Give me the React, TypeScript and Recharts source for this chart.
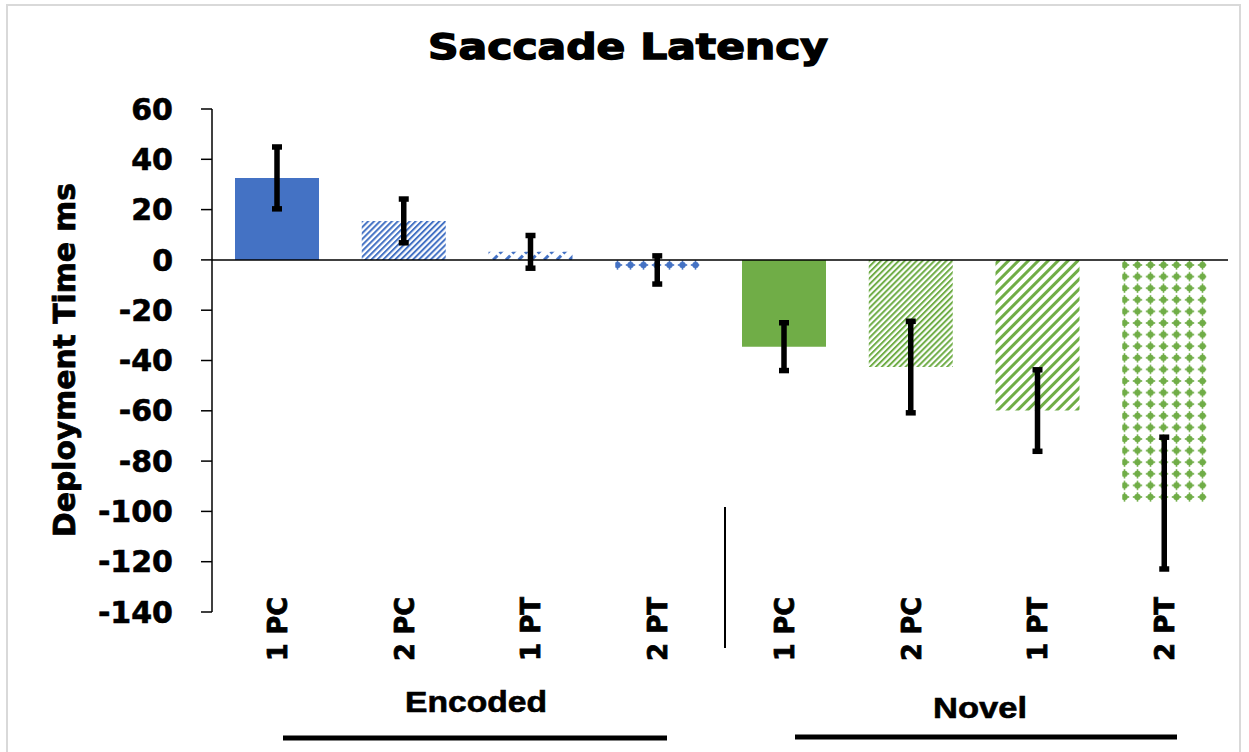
import React from "react";
import { BarChart, Bar, XAxis, YAxis, Cell, ErrorBar, ReferenceLine } from "recharts";

const categories = ["1 PC", "2 PC", "1 PT", "2 PT", "1 PC", "2 PC", "1 PT", "2 PT"];
const groups = ["Encoded", "Encoded", "Encoded", "Encoded", "Novel", "Novel", "Novel", "Novel"];
const latency = [32.6, 15.5, 3.2, -4, -34.5, -42.6, -59.9, -96.7];
const stdErr = [12.3, 8.7, 6.5, 5.6, 9.5, 18.2, 16.2, 26.2];
const fills = [
  "#4472C4",
  "url(#blueFine)",
  "url(#blueDash)",
  "url(#blueDots)",
  "#70AD47",
  "url(#greenFine)",
  "url(#greenWide)",
  "url(#greenDots)",
];
const yTicks = [60, 40, 20, 0, -20, -40, -60, -80, -100, -120, -140];

const data = categories.map((c, i) => ({
  key: `${groups[i]}-${c}`,
  label: c,
  value: latency[i],
  err: stdErr[i],
}));

const BLUE = "#4472C4";
const GREEN = "#70AD47";
const BOLD_FONT = "DejaVu Sans, sans-serif";

function CategoryTick(props: any) {
  const { x, y, payload } = props;
  const label = data[payload.index]?.label ?? payload.value;
  return (
    <text
      x={0}
      y={0}
      dy="0.36em"
      textAnchor="end"
      transform={`translate(${x},${y - 15}) rotate(-90)`}
      fontFamily={BOLD_FONT}
      fontWeight="bold"
      fontSize={26}
      textLength={64}
      lengthAdjust="spacingAndGlyphs"
      fill="#000"
      stroke="#000"
      strokeWidth={0.8}
    >
      {label}
    </text>
  );
}

function Stripes({ id, color, gap, thick }: { id: string; color: string; gap: number; thick: number }) {
  return (
    <pattern id={id} patternUnits="userSpaceOnUse" width={gap} height={gap} patternTransform="rotate(45)">
      <rect x={0} y={0} width={thick} height={gap} fill={color} />
    </pattern>
  );
}

function Dots({ id, color }: { id: string; color: string }) {
  return (
    <pattern id={id} patternUnits="userSpaceOnUse" x={0} y={4} width={13} height={11.6}>
      <circle cx={6.5} cy={5.8} r={3.2} fill={color} />
      <rect x={5.7} y={1.2} width={1.6} height={9.2} fill={color} />
      <rect x={1.8} y={5} width={9.4} height={1.6} fill={color} />
    </pattern>
  );
}

export default function App() {
  return (
    <div style={{ position: "absolute", left: 0, top: 0, width: 1249, height: 752, background: "#fff" }}>
      <BarChart
        width={1249}
        height={752}
        data={data}
        margin={{ top: 109, right: 21, left: 0, bottom: 0 }}
        barSize={84}
      >
        <defs>
          <Stripes id="blueFine" color={BLUE} gap={4.2} thick={2} />
          <pattern id="blueDash" patternUnits="userSpaceOnUse" width={9} height={9} patternTransform="rotate(45)">
            <rect x={0} y={0} width={3} height={6} fill={BLUE} />
          </pattern>
          <Dots id="blueDots" color={BLUE} />
          <Stripes id="greenFine" color={GREEN} gap={4.2} thick={2} />
          <Stripes id="greenWide" color={GREEN} gap={7} thick={3} />
          <Dots id="greenDots" color={GREEN} />
        </defs>
        <XAxis
          dataKey="key"
          height={140}
          axisLine={false}
          tickLine={false}
          tickSize={0}
          tickMargin={0}
          interval={0}
          padding={{ left: 2, right: 0 }}
          tick={<CategoryTick />}
        />
        <YAxis
          width={212}
          domain={[-140, 60]}
          ticks={yTicks}
          interval={0}
          allowDataOverflow
          axisLine={{ stroke: "#000", strokeWidth: 1.5 }}
          tickLine={{ stroke: "#000", strokeWidth: 1.5 }}
          tickSize={11}
          tickMargin={28}
          tick={{ fill: "#000", stroke: "#000", strokeWidth: 0.6, fontSize: 30, fontWeight: "bold", fontFamily: BOLD_FONT }}
        />
        <ReferenceLine y={0} stroke="#000" strokeWidth={1.5} ifOverflow="extendDomain" />
        <Bar dataKey="value" isAnimationActive={false}>
          {data.map((d, i) => (
            <Cell key={d.key} fill={fills[i]} />
          ))}
          <ErrorBar dataKey="err" width={5} stroke="#000" strokeWidth={5.5} direction="y" />
        </Bar>
      </BarChart>
      <svg width={1249} height={752} style={{ position: "absolute", left: 0, top: 0, pointerEvents: "none" }}>
        <rect x={7} y={5} width={1233} height={760} fill="none" stroke="#d9d9d9" strokeWidth={2} />
        <text
          x={628}
          y={59}
          textAnchor="middle"
          fontFamily={BOLD_FONT}
          fontWeight="bold"
          fontSize={35}
          textLength={400}
          lengthAdjust="spacingAndGlyphs"
          stroke="#000"
          strokeWidth={1.4}
        >
          Saccade Latency
        </text>
        <text
          x={0}
          y={0}
          textAnchor="middle"
          transform="translate(75,360) rotate(-90)"
          fontFamily={BOLD_FONT}
          fontWeight="bold"
          fontSize={30}
          textLength={354}
          lengthAdjust="spacingAndGlyphs"
          stroke="#000"
          strokeWidth={0.8}
        >
          Deployment Time ms
        </text>
        <line x1={725} y1={507} x2={725} y2={648} stroke="#000" strokeWidth={2} />
        <text
          x={476}
          y={712}
          textAnchor="middle"
          fontFamily="Liberation Sans, Arial, sans-serif"
          fontWeight="bold"
          fontSize={29}
          textLength={142}
          lengthAdjust="spacingAndGlyphs"
          stroke="#000"
          strokeWidth={0.6}
        >
          Encoded
        </text>
        <text
          x={980}
          y={718}
          textAnchor="middle"
          fontFamily="Liberation Sans, Arial, sans-serif"
          fontWeight="bold"
          fontSize={29}
          textLength={94}
          lengthAdjust="spacingAndGlyphs"
          stroke="#000"
          strokeWidth={0.6}
        >
          Novel
        </text>
        <line x1={283} y1={738} x2={667} y2={738} stroke="#000" strokeWidth={5} />
        <line x1={795} y1={737} x2={1177} y2={737} stroke="#000" strokeWidth={5} />
      </svg>
    </div>
  );
}
